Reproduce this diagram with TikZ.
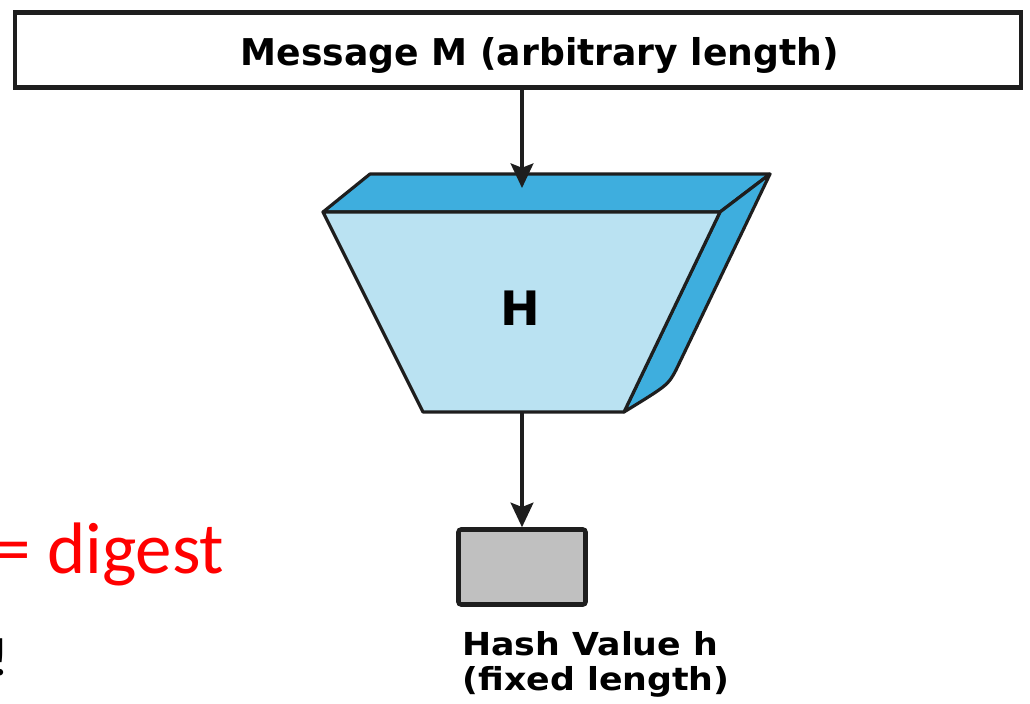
\documentclass[tikz,border=0pt]{standalone}
\usepackage{fontspec}
\setmainfont{DejaVu Sans}
\newfontfamily\slidefont{Carlito}
\usetikzlibrary{arrows.meta, positioning}

\definecolor{topblue}{RGB}{62,174,222}
\definecolor{faceblue}{RGB}{186,226,242}
\definecolor{boxgray}{RGB}{192,192,192}
\definecolor{edge}{RGB}{30,30,30}
\definecolor{slidered}{RGB}{255,0,0}

\begin{document}
\begin{tikzpicture}[x=0.02cm, y=-0.02cm, node distance=0.25cm,
	box/.style={draw=edge, line width=2.6pt},
	arr/.style={draw=edge, line width=1.8pt, -{Stealth[length=14pt,width=13pt,inset=2.5pt]}},
	face/.style={draw=edge, line width=1.8pt, line join=round},
	label/.style={anchor=base west, inner sep=0pt, font=\fontsize{18}{20}\selectfont\bfseries}]
	\useasboundingbox (0,0) rectangle (1030,703);
	\node[box, minimum width=20.12cm, minimum height=1.5cm] (m) at (518,50) {};
	\node[anchor=base, inner sep=0pt] (mt) at (540,65) {\scalebox{0.98}[1]{\fontsize{21}{24}\selectfont\bfseries Message M (arbitrary length)}};
	% hash function H
	\coordinate (ftl) at (323,212);
	\coordinate (ftr) at (720,212);
	\coordinate (btl) at (370,174);
	\coordinate (btr) at (770,174);
	\coordinate (fbl) at (423,412);
	\coordinate (fbr) at (624,412);
	\filldraw[face, fill=topblue] (ftl) -- (btl) -- (btr) -- (ftr) -- cycle;
	\filldraw[face, fill=topblue] (ftr) -- (btr) -- (676,370) .. controls (668,385) .. (fbr) -- cycle;
	\filldraw[face, fill=faceblue] (ftl) -- (ftr) -- (fbr) -- (fbl) -- cycle;
	\node (h) at (520,308) {\fontsize{27}{30}\bfseries H};
	\coordinate (in) at (522,188);
	\coordinate (out) at (522,413);
	% hash value
	\node[box, fill=boxgray, rounded corners=1.5pt, minimum width=2.54cm, minimum height=1.5cm] (v) at (522,567) {};
	\node[label] (vt) at (462,655) {\scalebox{1.1}[1]{Hash Value h}};
	\node[label, below=20pt of vt.base west, anchor=base west] (vl) {\scalebox{1.1}[1]{(fixed length)}};
	\draw[arr] (in |- m.south) -- (in);
	\draw[arr] (out) -- (v.north -| out);
	% slide text cut at the left edge
	\node[anchor=base west, inner sep=0pt, text=slidered] (dg) at (-6,573) {\fontsize{41.5}{44}\slidefont = digest};
	\node[anchor=base west, inner sep=0pt] (ex) at (-9,675) {\fontsize{31}{34}\slidefont !};
\end{tikzpicture}
\end{document}
